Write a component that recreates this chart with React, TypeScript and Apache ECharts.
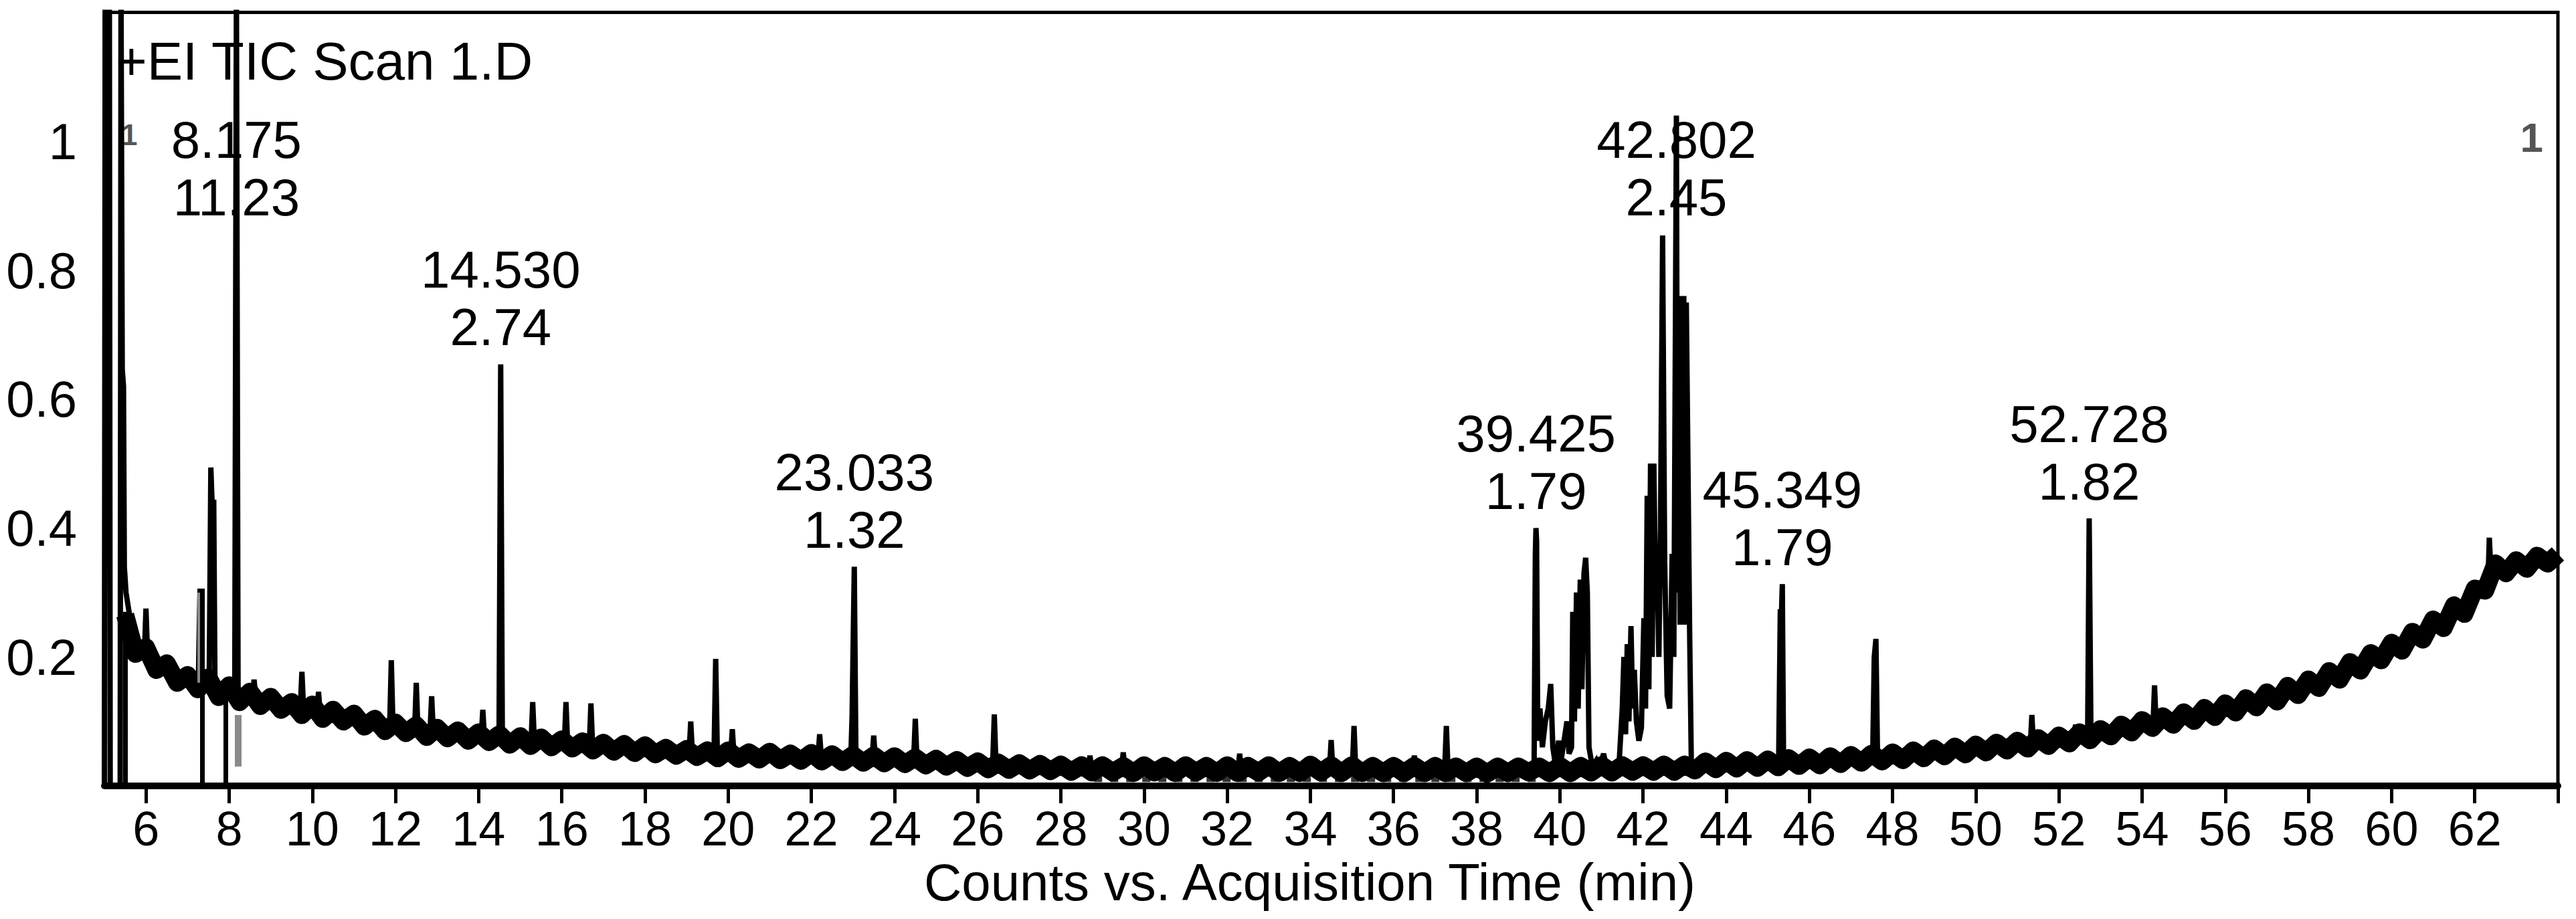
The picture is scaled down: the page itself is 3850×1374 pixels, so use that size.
import React, { useEffect, useRef } from "react";
import * as echarts from "echarts";

const FONT = "'Liberation Sans', Arial, Helvetica, sans-serif";

// axis ranges / ticks
const X_MIN = 5;
const X_MAX = 64;
const xTickValues = [6, 8, 10, 12, 14, 16, 18, 20, 22, 24, 26, 28, 30, 32, 34, 36, 38, 40, 42, 44, 46, 48, 50, 52, 54, 56, 58, 60, 62, 64];
const xLabelValues = [6, 8, 10, 12, 14, 16, 18, 20, 22, 24, 26, 28, 30, 32, 34, 36, 38, 40, 42, 44, 46, 48, 50, 52, 54, 56, 58, 60, 62];
const Y_MIN = 0;
const Y_MAX = 1.2;
const Y_STEP = 0.2;

// solvent front at the start of the run [time, counts]
const startTrace: number[][] = [
  [5.0, 0], [5.02, 1.25], [5.12, 1.25], [5.14, 0], [5.38, 0], [5.4, 1.25],
  [5.43, 0.646], [5.46, 0.62], [5.48, 0.34], [5.52, 0.3],
];

// noisy baseline, sampled every 0.25 min from 5.5 min
const baselineStart = 5.5;
const baselineStep = 0.25;
const baselineValues = [
  0.265, 0.205,
  0.215, 0.18, 0.19, 0.16,
  0.172, 0.15, 0.168, 0.138,
  0.156, 0.13, 0.146, 0.124,
  0.138, 0.118, 0.13, 0.11,
  0.126, 0.104, 0.118, 0.1,
  0.112, 0.092, 0.104, 0.085,
  0.098, 0.082, 0.094, 0.076,
  0.09, 0.074, 0.086, 0.07,
  0.083, 0.068, 0.08, 0.064,
  0.077, 0.062, 0.075, 0.06,
  0.072, 0.058, 0.069, 0.055,
  0.067, 0.053, 0.065, 0.051,
  0.063, 0.049, 0.059, 0.047,
  0.057, 0.045, 0.055, 0.043,
  0.055, 0.042, 0.052, 0.041,
  0.053, 0.04, 0.05, 0.039,
  0.051, 0.038, 0.049, 0.037,
  0.048, 0.036, 0.047, 0.035,
  0.046, 0.034, 0.044, 0.032,
  0.042, 0.03, 0.04, 0.028,
  0.038, 0.026, 0.036, 0.025,
  0.035, 0.024, 0.034, 0.023,
  0.033, 0.022, 0.032, 0.021,
  0.032, 0.021, 0.031, 0.02,
  0.032, 0.021, 0.031, 0.02,
  0.032, 0.021, 0.031, 0.02,
  0.032, 0.02, 0.031, 0.021,
  0.032, 0.02, 0.031, 0.02,
  0.033, 0.021, 0.032, 0.02,
  0.032, 0.02, 0.031, 0.02,
  0.031, 0.02, 0.031, 0.02,
  0.031, 0.02, 0.03, 0.02,
  0.03, 0.019, 0.03, 0.02,
  0.03, 0.021, 0.03, 0.02,
  0.031, 0.02, 0.031, 0.021,
  0.032, 0.021, 0.032, 0.022,
  0.032, 0.022, 0.033, 0.022,
  0.033, 0.024, 0.038, 0.026,
  0.039, 0.027, 0.04, 0.028,
  0.041, 0.029, 0.043, 0.031,
  0.044, 0.032, 0.046, 0.034,
  0.048, 0.036, 0.05, 0.038,
  0.052, 0.04, 0.055, 0.043,
  0.058, 0.046, 0.061, 0.049,
  0.064, 0.052, 0.067, 0.055,
  0.07, 0.058, 0.074, 0.062,
  0.078, 0.066, 0.083, 0.071,
  0.088, 0.077, 0.095, 0.083,
  0.102, 0.09, 0.108, 0.095,
  0.114, 0.101, 0.121, 0.107,
  0.128, 0.114, 0.136, 0.122,
  0.145, 0.131, 0.155, 0.141,
  0.165, 0.152, 0.178, 0.165,
  0.192, 0.179, 0.206, 0.195,
  0.222, 0.21, 0.239, 0.227,
  0.258, 0.245, 0.28, 0.267,
  0.306, 0.303, 0.345, 0.33,
  0.35, 0.337, 0.357, 0.345,
  0.36,
];

// peaks (points of the trace around each peak) [time, counts]
const peakPoints: number[][] = [
  [5.96, 0.2], [6.0, 0.275], [6.04, 0.2],
  [7.26, 0.16], [7.3, 0.306], [7.34, 0.16],
  [7.52, 0.155], [7.56, 0.494], [7.59, 0.44], [7.63, 0.44], [7.66, 0.15],
  [8.135, 0.14], [8.175, 1.25], [8.215, 0.14],
  [8.56, 0.135], [8.6, 0.165], [8.64, 0.135],
  [9.71, 0.12], [9.75, 0.177], [9.79, 0.12],
  [10.11, 0.112], [10.15, 0.146], [10.19, 0.112],
  [11.86, 0.092], [11.9, 0.195], [11.94, 0.092],
  [12.46, 0.087], [12.5, 0.16], [12.54, 0.087],
  [12.83, 0.083], [12.87, 0.139], [12.91, 0.083],
  [14.06, 0.074], [14.1, 0.118], [14.14, 0.074],
  [14.49, 0.072], [14.53, 0.654], [14.57, 0.072],
  [15.26, 0.068], [15.3, 0.13], [15.34, 0.068],
  [16.06, 0.064], [16.1, 0.13], [16.14, 0.064],
  [16.66, 0.062], [16.7, 0.128], [16.74, 0.062],
  [19.06, 0.05], [19.1, 0.1], [19.14, 0.05],
  [19.66, 0.05], [19.7, 0.197], [19.74, 0.05],
  [20.06, 0.048], [20.1, 0.088], [20.14, 0.048],
  [22.16, 0.044], [22.2, 0.08], [22.24, 0.044],
  [22.95, 0.045], [22.98, 0.109], [23.033, 0.34], [23.07, 0.06], [23.1, 0.042],
  [23.46, 0.042], [23.5, 0.078], [23.54, 0.042],
  [24.46, 0.04], [24.5, 0.104], [24.54, 0.04],
  [26.36, 0.032], [26.4, 0.111], [26.44, 0.032],
  [28.66, 0.027], [28.7, 0.047], [28.74, 0.027],
  [29.46, 0.026], [29.5, 0.052], [29.54, 0.026],
  [32.26, 0.026], [32.3, 0.05], [32.34, 0.026],
  [34.46, 0.026], [34.5, 0.071], [34.54, 0.026],
  [35.01, 0.026], [35.05, 0.093], [35.09, 0.026],
  [36.46, 0.026], [36.5, 0.047], [36.54, 0.026],
  [37.23, 0.026], [37.27, 0.093], [37.31, 0.026],
  [39.38, 0.03], [39.41, 0.36], [39.425, 0.4], [39.44, 0.38], [39.47, 0.07], [39.52, 0.12],
  [39.58, 0.06], [39.65, 0.1], [39.72, 0.12], [39.78, 0.158], [39.83, 0.06], [39.9, 0.03],
  [39.97, 0.07], [40.03, 0.04], [40.1, 0.07], [40.17, 0.1], [40.22, 0.05], [40.28, 0.06],
  [40.31, 0.27], [40.35, 0.1], [40.4, 0.3], [40.44, 0.12], [40.49, 0.32], [40.53, 0.15],
  [40.58, 0.33], [40.62, 0.354], [40.66, 0.3], [40.7, 0.06],
  [40.78, 0.03], [40.88, 0.04], [40.96, 0.03], [41.05, 0.05], [41.12, 0.03], [41.22, 0.025],
  [41.32, 0.03], [41.42, 0.03], [41.5, 0.12], [41.54, 0.2], [41.58, 0.08], [41.62, 0.22],
  [41.66, 0.1], [41.71, 0.248], [41.75, 0.12], [41.79, 0.18], [41.84, 0.1], [41.9, 0.07],
  [41.96, 0.09], [42.02, 0.26], [42.06, 0.12], [42.1, 0.45], [42.14, 0.15], [42.18, 0.5],
  [42.22, 0.2], [42.26, 0.5], [42.3, 0.3], [42.34, 0.34], [42.38, 0.2], [42.42, 0.4],
  [42.47, 0.854], [42.52, 0.35], [42.58, 0.14], [42.64, 0.12],
  [42.7, 0.36], [42.74, 0.2], [42.77, 0.6], [42.802, 1.04], [42.83, 0.3], [42.86, 0.76],
  [42.89, 0.25], [42.92, 0.75], [42.95, 0.3], [42.98, 0.76], [43.01, 0.25], [43.04, 0.75],
  [43.08, 0.5], [43.12, 0.24], [43.16, 0.04], [43.22, 0.03],
  [45.26, 0.034], [45.3, 0.27], [45.33, 0.27], [45.349, 0.313], [45.38, 0.03],
  [47.52, 0.04], [47.56, 0.2], [47.6, 0.228], [47.64, 0.04],
  [51.31, 0.06], [51.35, 0.11], [51.39, 0.06],
  [52.36, 0.07], [52.4, 0.095], [52.44, 0.07],
  [52.69, 0.072], [52.728, 0.415], [52.77, 0.08],
  [54.26, 0.09], [54.3, 0.156], [54.34, 0.09],
  [62.31, 0.3], [62.35, 0.385], [62.39, 0.33],
];

// vertical strokes of overlapping traces [time, from, to]
const blackDrops: number[][] = [
  [5.5, 0, 0.27], [7.36, 0, 0.306], [7.92, 0, 0.14],
];
const greyDrops: number[][] = [
  [5.08, 0, 1.25], [7.31, 0.16, 0.3], [8.22, 0.03, 0.11],
];
// faint dotted lower trace [time, counts]
const lowerTrace: number[][] = [[28.8, 0.01], [39.6, 0.01]];

// annotated peaks
const peakTimes = ["8.175", "14.530", "23.033", "39.425", "42.802", "45.349", "52.728"];
const peakAreas = ["11.23", "2.74", "1.32", "1.79", "2.45", "1.79", "1.82"];
const peakHeights = [1.05, 0.654, 0.34, 0.4, 1.04, 0.313, 0.415];

// small "1" markers [time, counts]
const markerPoints: number[][] = [[63.37, 1.006], [5.6, 1.01]];

function baselinePoints(): number[][] {
  return baselineValues.map((v, i) => [baselineStart + i * baselineStep, v]);
}

function buildTrace(): number[][] {
  const extra = [...startTrace, ...peakPoints];
  const kept = baselinePoints().filter((p) => !extra.some((q) => Math.abs(q[0] - p[0]) < 0.06));
  return [...startTrace, ...kept, ...peakPoints].sort((a, b) => a[0] - b[0]);
}

export default function App() {
  const ref = useRef<HTMLDivElement>(null);

  useEffect(() => {
    if (!ref.current) return;
    const chart = echarts.init(ref.current, null, { renderer: "svg" });

    const dropLine = (d: number[], color: string, width: number) => [
      { coord: [d[0], d[1]], lineStyle: { color, width, type: "solid" } },
      { coord: [d[0], d[2]], lineStyle: { color, width, type: "solid" } },
    ];

    const option: any = {
      animation: false,
      backgroundColor: "#ffffff",
      title: {
        text: "+EI TIC Scan 1.D",
        left: 168,
        top: 46,
        textStyle: { fontSize: 80, fontWeight: "normal", color: "#000", fontFamily: FONT },
      },
      grid: {
        left: 156,
        right: 27,
        top: 18.5,
        bottom: 199,
        show: true,
        borderColor: "#000",
        borderWidth: 5,
        containLabel: false,
        outerBoundsMode: "none",
      },
      xAxis: {
        type: "value",
        min: X_MIN,
        max: X_MAX,
        name: "Counts vs. Acquisition Time (min)",
        nameLocation: "middle",
        nameGap: 98,
        nameTextStyle: { fontSize: 78, color: "#000", fontFamily: FONT, padding: [0, 64, 0, 0] },
        axisLine: { show: true, onZero: false, lineStyle: { color: "#000", width: 10 } },
        axisTick: {
          show: true,
          inside: false,
          length: 26,
          customValues: xTickValues,
          lineStyle: { color: "#000", width: 5 },
        },
        axisLabel: {
          customValues: xLabelValues,
          fontSize: 72,
          color: "#000",
          margin: 28,
          fontFamily: FONT,
        },
        splitLine: { show: false },
      },
      yAxis: {
        type: "value",
        min: Y_MIN,
        max: Y_MAX,
        interval: Y_STEP,
        axisLine: { show: true, lineStyle: { color: "#000", width: 5 } },
        axisTick: { show: false },
        splitLine: { show: false },
        axisLabel: {
          fontSize: 76,
          color: "#000",
          margin: 41,
          fontFamily: FONT,
          formatter: (v: number) => (v <= 0 || v >= 1.1 ? "" : String(Math.round(v * 10) / 10)),
        },
      },
      series: [
        {
          name: "lower",
          type: "line",
          data: lowerTrace,
          showSymbol: false,
          z: 2,
          silent: true,
          lineStyle: { color: "#333", width: 8, type: [12, 12] },
          markLine: {
            silent: true,
            symbol: ["none", "none"],
            label: { show: false },
            animation: false,
            data: [
              ...greyDrops.map((d) => dropLine(d, "#8a8a8a", 10)),
              ...blackDrops.map((d) => dropLine(d, "#000", 7)),
            ],
          },
        },
        {
          name: "baseline",
          type: "line",
          data: baselinePoints(),
          showSymbol: false,
          z: 3,
          silent: true,
          clip: true,
          lineStyle: { color: "#000", width: 27, join: "round" },
        },
        {
          name: "TIC",
          type: "line",
          data: buildTrace(),
          showSymbol: false,
          z: 4,
          silent: true,
          clip: true,
          lineStyle: { color: "#000", width: 8, join: "miter" },
        },
        {
          name: "peakLabels",
          type: "scatter",
          z: 1,
          silent: true,
          symbolSize: 1,
          itemStyle: { color: "rgba(0,0,0,0)", opacity: 1 },
          data: peakTimes.map((t, i) => ({
            value: [parseFloat(t), Math.min(peakHeights[i], 0.855)],
            label: { formatter: t + "\n" + peakAreas[i] },
          })),
          label: {
            show: true,
            position: "top",
            distance: 12,
            fontSize: 78,
            lineHeight: 86,
            color: "#000",
            opacity: 1,
            fontFamily: FONT,
            align: "center",
          },
        },
        {
          name: "markers",
          type: "scatter",
          z: 1,
          silent: true,
          symbolSize: 1,
          itemStyle: { color: "rgba(0,0,0,0)", opacity: 1 },
          data: markerPoints.map((p, i) => ({
            value: p,
            label: { fontSize: i === 0 ? 62 : 44 },
          })),
          label: {
            show: true,
            position: "inside",
            formatter: "1",
            color: "#555",
            fontFamily: FONT,
            fontWeight: "bold",
          },
        },
      ],
    };

    chart.setOption(option);
    return () => chart.dispose();
  }, []);

  return (
    <div
      ref={ref}
      style={{ position: "fixed", left: 0, top: 0, width: 3850, height: 1374, background: "#fff" }}
    />
  );
}
